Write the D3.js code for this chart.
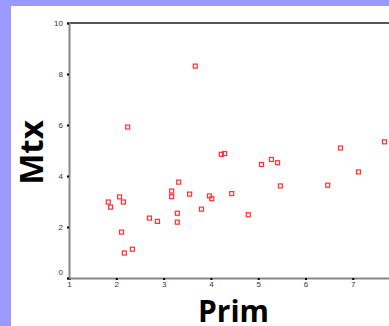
<!DOCTYPE html>
<html>
<head>
<meta charset="utf-8">
<script src="https://cdn.jsdelivr.net/npm/d3@7"></script>
<style>
  body { margin: 0; background: #9999ff; }
  svg { display: block; }
</style>
</head>
<body>
<div id="chart"></div>
<script>
// Prim vs Mtx
var primValues = [3.67, 2.24, 1.83, 1.88, 2.07, 2.15, 2.11, 2.17, 2.34, 2.70, 2.87,
  3.17, 3.17, 3.32, 3.29, 3.29, 3.55, 3.80, 3.97, 4.02, 4.22, 4.29, 4.44, 4.79,
  5.07, 5.28, 5.41, 5.47, 6.47, 6.74, 7.12, 7.67];
var mtxValues = [8.31, 5.92, 2.98, 2.78, 3.18, 2.98, 1.80, 0.98, 1.13, 2.35, 2.22,
  3.41, 3.19, 3.76, 2.54, 2.19, 3.29, 2.70, 3.22, 3.11, 4.85, 4.88, 3.31, 2.48,
  4.45, 4.65, 4.52, 3.61, 3.64, 5.10, 4.16, 5.34];
var xTicks = [1, 2, 3, 4, 5, 6, 7];
var yTicks = [0, 2, 4, 6, 8, 10];

var W = 389, H = 326;
var margin = {left: 69, top: 23};

var svg = d3.select("#chart").append("svg")
  .attr("width", W)
  .attr("height", H);

// white panel on the lavender background
svg.append("rect")
  .attr("x", 11).attr("y", 6)
  .attr("width", W - 11).attr("height", H - 6)
  .attr("fill", "#ffffff");

var x = d3.scaleLinear().domain([1, 8]).range([margin.left, margin.left + 7 * 47.3]);
var y = d3.scaleLinear().domain([0, 10]).range([278, margin.top]);

// frame: top line
svg.append("line")
  .attr("x1", x(1)).attr("x2", W)
  .attr("y1", y(10)).attr("y2", y(10))
  .attr("stroke", "#555").attr("stroke-width", 2);

var xAxis = svg.append("g")
  .attr("transform", "translate(0," + y(0) + ")")
  .call(d3.axisBottom(x).tickValues(xTicks).tickSize(2).tickPadding(1).tickFormat(d3.format("d")));

var yAxis = svg.append("g")
  .attr("transform", "translate(" + x(1) + ",0)")
  .call(d3.axisLeft(y).tickValues(yTicks).tickSize(2).tickPadding(4).tickFormat(d3.format("d")));

[xAxis, yAxis].forEach(function(g) {
  g.select(".domain").attr("stroke", "#888").attr("stroke-width", 2);
  g.selectAll(".tick line").attr("stroke", "#000").attr("stroke-width", 2);
  g.selectAll(".tick text")
    .attr("fill", "#333")
    .style("font-family", "Liberation Sans, Arial, sans-serif")
    .style("font-size", "8px");
});
// the 0 label sits a bit above the axis
yAxis.selectAll(".tick text").filter(function(d) { return d === 0; }).attr("dy", "-0.4em");

// points
svg.append("g").selectAll("rect")
  .data(primValues)
  .enter().append("rect")
    .attr("x", function(d) { return x(d) - 2; })
    .attr("y", function(d, i) { return y(mtxValues[i]) - 2; })
    .attr("width", 4).attr("height", 4)
    .attr("fill", "none")
    .attr("stroke", "#ff3030")
    .attr("stroke-width", 1.2);

svg.append("text")
  .attr("x", 233.5).attr("y", 322)
  .attr("text-anchor", "middle")
  .style("font-family", "Open Sans, sans-serif")
  .style("font-weight", "bold")
  .style("font-size", "30px")
  .text("Prim");

svg.append("text")
  .attr("transform", "translate(43,152.5) rotate(-90)")
  .attr("text-anchor", "middle")
  .style("font-family", "Open Sans, sans-serif")
  .style("font-weight", "bold")
  .style("font-size", "33px")
  .text("Mtx");
</script>
</body>
</html>
